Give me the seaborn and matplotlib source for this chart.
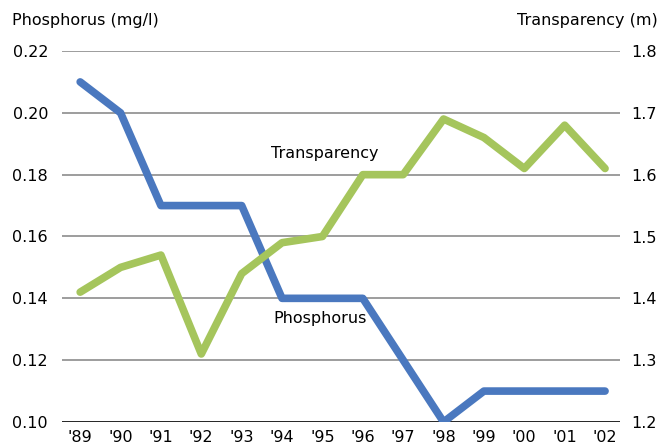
import pandas as pd
import seaborn as sns
import matplotlib.pyplot as plt

years = ["'89", "'90", "'91", "'92", "'93", "'94", "'95", "'96", "'97", "'98", "'99", "'00", "'01", "'02"]
phosphorus = [0.21, 0.20, 0.17, 0.17, 0.17, 0.14, 0.14, 0.14, 0.12, 0.10, 0.11, 0.11, 0.11, 0.11]
transparency = [1.41, 1.45, 1.47, 1.31, 1.44, 1.49, 1.50, 1.60, 1.60, 1.69, 1.66, 1.61, 1.68, 1.61]

df = pd.DataFrame({"idx": range(len(years)), "year": years,
                   "phosphorus": phosphorus, "transparency": transparency})

sns.set_style("white")
plt.rcParams['font.family'] = ['DejaVu Sans']
plt.rcParams['text.color'] = 'black'
fs = 11.5

fig = plt.figure(figsize=(6.64, 4.44), dpi=100)
ax = fig.add_axes([62 / 664, 1 - 422 / 444, 558 / 664, 371 / 444])
ax2 = ax.twinx()

blue = "#4a78bf"
green = "#a5c55c"

sns.lineplot(data=df, x="idx", y="phosphorus", ax=ax, color=blue, linewidth=5.5,
             solid_capstyle="round", zorder=3)
sns.lineplot(data=df, x="idx", y="transparency", ax=ax2, color=green, linewidth=5.5,
             solid_capstyle="round", zorder=3)

ax.set_ylim(0.10, 0.22)
ax2.set_ylim(1.2, 1.8)
ax.set_yticks([0.10, 0.12, 0.14, 0.16, 0.18, 0.20, 0.22])
ax.set_yticklabels([f"{v:.2f}" for v in ax.get_yticks()])
ax2.set_yticks([1.2, 1.3, 1.4, 1.5, 1.6, 1.7, 1.8])
ax2.set_yticklabels([f"{v:.1f}" for v in ax2.get_yticks()])
ax.set_xlim(-0.45, 13.37)
ax.set_xticks(range(len(years)))
ax.set_xticklabels(years)

for y in ax.get_yticks()[1:]:
    ax.axhline(y, color="#8c8c8c", linewidth=1.2, zorder=1)
ax.axhline(0.10, color="black", linewidth=1.2, zorder=2)

for a in (ax, ax2):
    for s in a.spines.values():
        s.set_visible(False)
    a.set_xlabel("")
    a.set_ylabel("")
    a.tick_params(length=0, labelsize=fs, colors="black")
ax.tick_params(axis="y", pad=10)
ax2.tick_params(axis="y", pad=8)
ax.tick_params(axis="x", pad=6)

ax2.set_zorder(ax.get_zorder() + 1)
ax2.patch.set_visible(False)

fig.text(12 / 664, 1 - 20 / 444, "Phosphorus (mg/l)", fontsize=fs, va="center", ha="left", color="black")
fig.text(658 / 664, 1 - 20 / 444, "Transparency (m)", fontsize=fs, va="center", ha="right", color="black")

ax.text(6.05, 0.187, "Transparency", fontsize=fs, ha="center", va="center", color="black")
ax.text(5.95, 0.1336, "Phosphorus", fontsize=fs, ha="center", va="center", color="black")

fig.savefig("out.png", dpi=100)
